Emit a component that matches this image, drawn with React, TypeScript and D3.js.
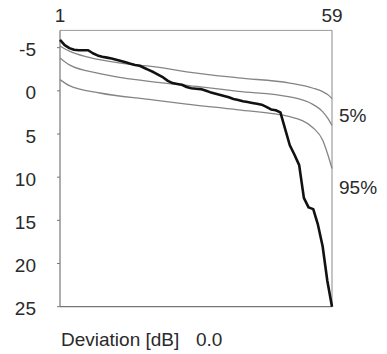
import { useEffect, useRef } from 'react';
import * as d3 from 'd3';

// rank index (1..59) -> deviation in dB
const RANKS = d3.range(1, 60);
const OBSERVED = [
  -5.9, -5.3, -4.95, -4.75, -4.7, -4.7, -4.7, -4.35, -4.1, -3.95,
  -3.85, -3.75, -3.6, -3.45, -3.3, -3.15, -3.0, -2.9, -2.65, -2.4,
  -2.15, -1.85, -1.55, -1.15, -0.9, -0.8, -0.7, -0.45, -0.3, -0.25,
  -0.2, -0.05, 0.15, 0.3, 0.45, 0.6, 0.75, 0.95, 1.05, 1.2,
  1.3, 1.4, 1.5, 1.6, 1.85, 2.15, 2.25, 2.5, 4.4, 6.3,
  7.4, 8.6, 12.4, 13.5, 13.7, 15.5, 18.0, 22.0, 25.0,
];

// reference (percentile) curves, sampled at a few ranks
const UPPER_RANKS = [1, 3, 7, 14, 21, 28, 39, 50, 55, 57, 58, 59];
const UPPER_VALUES = [-5.2, -4.6, -3.9, -3.2, -2.8, -2.2, -1.5, -0.9, -0.3, 0.1, 0.4, 0.9];
const MID_RANKS = [1, 3, 9.5, 20, 31, 39, 50, 55, 57, 58, 59];
const MID_VALUES = [-3.8, -3.0, -2.0, -1.1, -0.45, 0.05, 0.7, 1.6, 2.4, 3.1, 4.0];
const LOW_RANKS = [1, 3, 9.5, 20, 28, 39, 50, 55, 57, 58, 59];
const LOW_VALUES = [-1.3, -0.6, 0.25, 1.0, 1.55, 2.2, 3.0, 4.3, 5.7, 7.2, 9.0];

const Y_TICKS = [-5, 0, 5, 10, 15, 20, 25];
const TOP_LABELS = [1, 59];

const W = 387;
const H = 354;
const FONT = 'Liberation Sans, Arial, sans-serif';
const FS = 19;

export default function App() {
  const svgRef = useRef<SVGSVGElement>(null);

  useEffect(() => {
    if (!svgRef.current) return;
    const svg = d3.select(svgRef.current);
    svg.selectAll('*').remove();

    const x = d3.scaleLinear().domain([1, 59]).range([60, 332]);
    const y = d3.scaleLinear().domain([-7, 25]).range([30.4, 306.7]);

    const line = d3.line<[number, number]>()
      .x(d => x(d[0]))
      .y(d => y(d[1]));
    const smooth = d3.line<[number, number]>()
      .x(d => x(d[0]))
      .y(d => y(d[1]))
      .curve(d3.curveMonotoneX);

    // frame
    svg.append('line')
      .attr('x1', 60).attr('x2', 332).attr('y1', 30.4).attr('y2', 30.4)
      .attr('stroke', '#9a9a9a').attr('stroke-width', 1);
    svg.append('line')
      .attr('x1', 332).attr('x2', 332).attr('y1', 30.4).attr('y2', 306.7)
      .attr('stroke', '#8a8a8a').attr('stroke-width', 1);
    svg.append('line')
      .attr('x1', 60).attr('x2', 332).attr('y1', 306.7).attr('y2', 306.7)
      .attr('stroke', '#777').attr('stroke-width', 1.2);
    svg.append('line')
      .attr('x1', 60).attr('x2', 60).attr('y1', 30.4).attr('y2', 306.7)
      .attr('stroke', '#777').attr('stroke-width', 1.2);

    // y ticks
    const yt = svg.append('g');
    yt.selectAll('line').data(Y_TICKS).join('line')
      .attr('x1', 57).attr('x2', 60)
      .attr('y1', d => y(d)).attr('y2', d => y(d))
      .attr('stroke', '#777');
    yt.selectAll('text').data(Y_TICKS).join('text')
      .attr('x', 36).attr('y', d => y(d) + 2)
      .attr('dy', '0.35em')
      .attr('text-anchor', 'end')
      .attr('font-family', FONT).attr('font-size', FS).attr('fill', '#2a2a2a')
      .text(d => String(d));

    // top rank labels
    svg.append('g').selectAll('text').data(TOP_LABELS).join('text')
      .attr('x', d => x(d)).attr('y', 22)
      .attr('text-anchor', 'middle')
      .attr('font-family', FONT).attr('font-size', FS).attr('fill', '#2a2a2a')
      .text(d => String(d));

    const curves: [number[], number[]][] = [
      [UPPER_RANKS, UPPER_VALUES],
      [MID_RANKS, MID_VALUES],
      [LOW_RANKS, LOW_VALUES],
    ];
    curves.forEach(([r, v]) => {
      svg.append('path')
        .attr('d', smooth(r.map((ri, k) => [ri, v[k]] as [number, number])))
        .attr('fill', 'none')
        .attr('stroke', '#858585')
        .attr('stroke-width', 1.3);
    });

    svg.append('path')
      .attr('d', line(RANKS.map((r, k) => [r, OBSERVED[k]] as [number, number])))
      .attr('fill', 'none')
      .attr('stroke', '#111')
      .attr('stroke-width', 2.6)
      .attr('stroke-linejoin', 'round');

    // percentile labels
    const labels = svg.append('g')
      .attr('font-family', FONT).attr('font-size', FS).attr('fill', '#2a2a2a');
    labels.append('text').attr('x', 339).attr('y', 121.5).text('5%');
    labels.append('text').attr('x', 339).attr('y', 193.5).text('95%');
    labels.append('text').attr('x', 61).attr('y', 346).text('Deviation [dB]');
    labels.append('text').attr('x', 196).attr('y', 346).text('0.0');
  }, []);

  return (
    <svg
      ref={svgRef}
      width={W}
      height={H}
      style={{ position: 'absolute', left: 0, top: 0, background: '#fff' }}
    />
  );
}
